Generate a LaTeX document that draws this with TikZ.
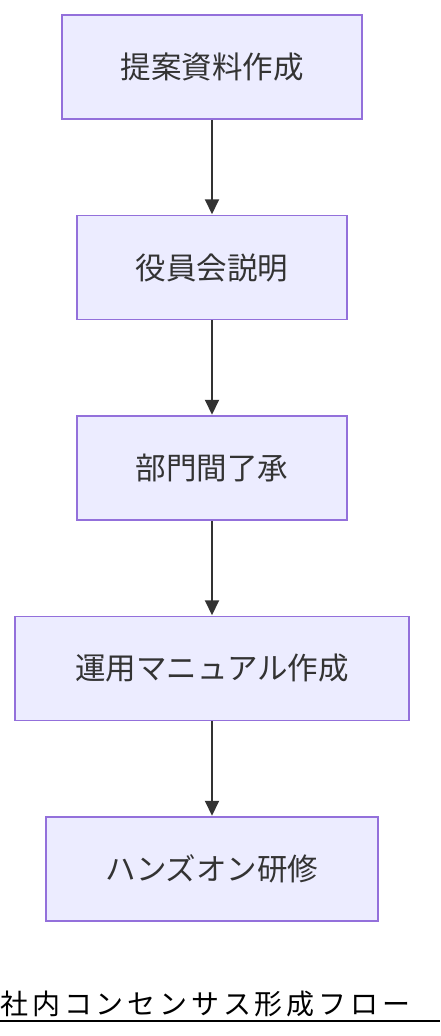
\documentclass[tikz,border=0pt]{standalone}
\usepackage{fontspec}
\setmainfont{Noto Sans CJK JP}
\newfontfamily\titlefont[LetterSpace=14]{Noto Sans CJK JP}
\usetikzlibrary{arrows.meta,positioning,calc}
\definecolor{boxfill}{HTML}{ECECFF}
\definecolor{boxline}{HTML}{9370DB}
\definecolor{ink}{HTML}{333333}
\tikzset{
    stepbox/.style={
        rectangle,
        line width=1.5pt,
        draw=boxline,
        fill=boxfill,
        text=ink,
        minimum height=104pt,
        font=\fontsize{30.5}{36}\selectfont,
    },
    every edge/.style={
        draw=ink,
        ->,>={Triangle[length=15pt,width=14pt]},
        line width=2pt,
        shorten >=0.5pt,
    },
    node distance=200.5pt,
}
\begin{document}
\begin{tikzpicture}
                \useasboundingbox (0,0) rectangle (440pt,-1036pt);

                \node [stepbox, minimum width=300pt] (teian) at (212pt,-67pt) {提案資料作成};
                \node [stepbox, minimum width=270pt, below of=teian] (yakuin) {役員会説明};
                \node [stepbox, minimum width=270pt, below of=yakuin] (bumon) {部門間了承};
                \node [stepbox, minimum width=394pt, below of=bumon] (manual) {運用マニュアル作成};
                \node [stepbox, minimum width=332pt, below of=manual] (kenshu) {ハンズオン研修};

                \draw (teian) edge (yakuin);
                \draw (yakuin) edge (bumon);
                \draw (bumon) edge (manual);
                \draw (manual) edge (kenshu);

                % title with underline
                \node [anchor=base west, inner sep=0pt, font=\titlefont\fontsize{28}{32}\selectfont] (title) at (0pt,-1014pt) {社内コンセンサス形成フロー};
                \coordinate (ulA) at (0pt,-1021pt);
                \coordinate (ulB) at (440pt,-1021pt);
                \draw [line width=1.6pt] (ulA) -- (ulB);
            \end{tikzpicture}
\end{document}
